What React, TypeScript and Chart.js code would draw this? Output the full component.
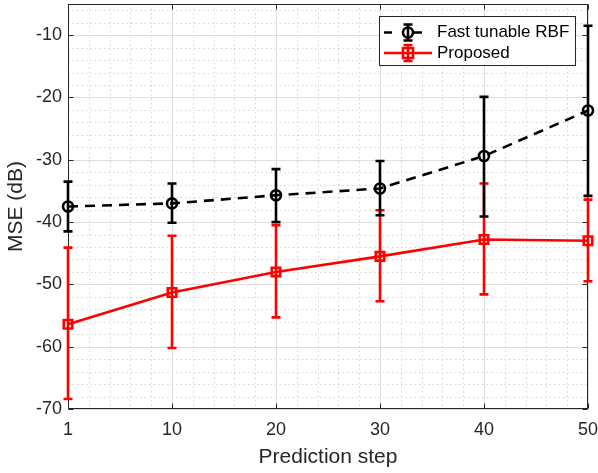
import React, { useEffect, useRef } from 'react';
import { Chart, registerables } from 'chart.js';
Chart.register(...registerables);

const steps = ['1', '10', '20', '30', '40', '50'];
const yTicks = [-70, -60, -50, -40, -30, -20, -10];

const rbfMean = [-37.5, -37.0, -35.7, -34.6, -29.4, -22.1];
const rbfHigh = [-33.5, -33.8, -31.5, -30.2, -19.9, -8.5];
const rbfLow = [-41.5, -40.1, -40.0, -38.9, -39.1, -35.8];

const propMean = [-56.4, -51.3, -48.0, -45.5, -42.8, -43.0];
const propHigh = [-44.1, -42.2, -40.5, -38.1, -33.8, -36.4];
const propLow = [-68.4, -60.2, -55.3, -52.7, -51.6, -49.5];

const FONT = '"Liberation Sans", Arial, Helvetica, sans-serif';
const AXIS = '#262626';

const gridPlugin = {
  id: 'matlabGrid',
  beforeDatasetsDraw(chart: any) {
    const { ctx, chartArea: a, scales } = chart;
    const xs = scales.x, ys = scales.y;
    ctx.save();
    ctx.strokeStyle = '#d3d3d3';
    ctx.lineWidth = 1;
    ctx.setLineDash([1.5, 3]);
    for (let v = -70; v <= -5; v += 2) {
      if (v % 10 === 0) continue;
      const y = Math.round(ys.getPixelForValue(v)) + 0.5;
      ctx.beginPath(); ctx.moveTo(a.left, y); ctx.lineTo(a.right, y); ctx.stroke();
    }
    for (let i = 0; i < steps.length - 1; i++) {
      for (let k = 1; k < 5; k++) {
        const x = Math.round(xs.getPixelForValue(i + k / 5)) + 0.5;
        ctx.beginPath(); ctx.moveTo(x, a.top); ctx.lineTo(x, a.bottom); ctx.stroke();
      }
    }
    ctx.setLineDash([]);
    ctx.strokeStyle = '#dedede';
    yTicks.forEach(v => {
      const y = Math.round(ys.getPixelForValue(v)) + 0.5;
      ctx.beginPath(); ctx.moveTo(a.left, y); ctx.lineTo(a.right, y); ctx.stroke();
    });
    steps.forEach((_, i) => {
      const x = Math.round(xs.getPixelForValue(i)) + 0.5;
      ctx.beginPath(); ctx.moveTo(x, a.top); ctx.lineTo(x, a.bottom); ctx.stroke();
    });
    ctx.strokeStyle = AXIS;
    const L = Math.round(a.left) + 0.5, R = Math.round(a.right) - 0.5;
    const T = Math.round(a.top) + 0.5, B = Math.round(a.bottom) - 0.5;
    ctx.strokeRect(L, T, R - L, B - T);
    const tl = 5;
    ctx.beginPath();
    yTicks.forEach(v => {
      const y = Math.round(ys.getPixelForValue(v)) + 0.5;
      ctx.moveTo(L, y); ctx.lineTo(L + tl, y);
      ctx.moveTo(R, y); ctx.lineTo(R - tl, y);
    });
    steps.forEach((_, i) => {
      const x = Math.round(xs.getPixelForValue(i)) + 0.5;
      ctx.moveTo(x, B); ctx.lineTo(x, B - tl);
      ctx.moveTo(x, T); ctx.lineTo(x, T + tl);
    });
    ctx.stroke();
    ctx.restore();
  },
};

const errorBarPlugin = {
  id: 'errorBars',
  beforeDatasetDraw(chart: any, args: any) {
    const ds: any = chart.data.datasets[args.index];
    const ys = chart.scales.y;
    const ctx = chart.ctx;
    ctx.save();
    ctx.strokeStyle = ds.borderColor;
    ctx.lineWidth = 2.6;
    ctx.setLineDash([]);
    ctx.lineCap = 'butt';
    args.meta.data.forEach((pt: any, i: number) => {
      const x = pt.x;
      const yh = ys.getPixelForValue(ds.errHigh[i]);
      const yl = ys.getPixelForValue(ds.errLow[i]);
      ctx.beginPath();
      ctx.moveTo(x, yh); ctx.lineTo(x, yl);
      ctx.moveTo(x - 4.5, yh); ctx.lineTo(x + 4.5, yh);
      ctx.moveTo(x - 4.5, yl); ctx.lineTo(x + 4.5, yl);
      ctx.stroke();
    });
    ctx.restore();
  },
};

const legendPlugin = {
  id: 'insideLegend',
  afterDraw(chart: any) {
    const ctx = chart.ctx;
    const bx = 379.5, by = 16.5, bw = 196, bh = 49;
    ctx.save();
    ctx.fillStyle = '#ffffff';
    ctx.fillRect(bx, by, bw, bh);
    ctx.strokeStyle = AXIS;
    ctx.lineWidth = 1;
    ctx.strokeRect(bx, by, bw, bh);
    const items = [
      { label: 'Fast tunable RBF', color: '#000000', dash: [8, 22], marker: 'circle', y: 32.5 },
      { label: 'Proposed', color: '#ff0000', dash: [], marker: 'rect', y: 53 },
    ];
    items.forEach(it => {
      const x0 = 384, x1 = 432, xm = 408;
      ctx.strokeStyle = it.color;
      ctx.lineWidth = 2.6;
      ctx.setLineDash(it.dash);
      ctx.beginPath(); ctx.moveTo(x0, it.y); ctx.lineTo(x1, it.y); ctx.stroke();
      ctx.setLineDash([]);
      ctx.beginPath();
      ctx.moveTo(xm, it.y - 8); ctx.lineTo(xm, it.y + 8);
      ctx.moveTo(xm - 4.5, it.y - 8); ctx.lineTo(xm + 4.5, it.y - 8);
      ctx.moveTo(xm - 4.5, it.y + 8); ctx.lineTo(xm + 4.5, it.y + 8);
      ctx.stroke();
      ctx.beginPath();
      if (it.marker === 'circle') ctx.arc(xm, it.y, 5, 0, Math.PI * 2);
      else ctx.rect(xm - 5, it.y - 5, 10, 10);
      ctx.stroke();
      ctx.fillStyle = '#000000';
      ctx.font = `17px ${FONT}`;
      ctx.textBaseline = 'middle';
      ctx.textAlign = 'left';
      ctx.fillText(it.label, 437, it.y);
    });
    ctx.restore();
  },
};

export default function App() {
  const ref = useRef<HTMLCanvasElement>(null);
  useEffect(() => {
    document.body.style.margin = '0';
    const canvas = ref.current!;
    const chart = new Chart(canvas, {
      type: 'line',
      data: {
        labels: steps,
        datasets: [
          {
            label: 'Fast tunable RBF',
            data: rbfMean,
            errHigh: rbfHigh,
            errLow: rbfLow,
            borderColor: '#000000',
            backgroundColor: 'rgba(0,0,0,0)',
            borderWidth: 2.6,
            borderDash: [10, 7],
            pointStyle: 'circle',
            pointRadius: 5,
            pointBorderWidth: 2.6,
            pointBackgroundColor: 'rgba(0,0,0,0)',
            pointBorderColor: '#000000',
            tension: 0,
            clip: false,
          } as any,
          {
            label: 'Proposed',
            data: propMean,
            errHigh: propHigh,
            errLow: propLow,
            borderColor: '#ff0000',
            backgroundColor: 'rgba(0,0,0,0)',
            borderWidth: 2.6,
            pointStyle: 'rect',
            pointRadius: 6,
            pointBorderWidth: 2.6,
            pointBackgroundColor: 'rgba(0,0,0,0)',
            pointBorderColor: '#ff0000',
            tension: 0,
            clip: false,
          } as any,
        ],
      },
      options: {
        responsive: false,
        animation: false,
        layout: { autoPadding: false, padding: { top: 4, right: 10, left: 0, bottom: 0 } },
        plugins: { legend: { display: false }, tooltip: { enabled: false } },
        scales: {
          x: {
            type: 'category',
            offset: false,
            grid: { display: false, drawTicks: false },
            border: { display: false },
            ticks: { color: AXIS, font: { family: FONT, size: 18 }, padding: 10, maxRotation: 0 },
            title: {
              display: true,
              text: 'Prediction step',
              color: AXIS,
              font: { family: FONT, size: 21 },
              padding: { top: 0, bottom: 3 },
            },
            afterFit: (s: any) => {
              s.height = 64;
              s.paddingLeft = 0; s.paddingRight = 0; s.paddingTop = 0; s.paddingBottom = 0;
            },
          },
          y: {
            type: 'linear',
            min: -70,
            max: -5,
            grid: { display: false, drawTicks: false },
            border: { display: false },
            afterBuildTicks: (s: any) => { s.ticks = yTicks.map(v => ({ value: v })); },
            ticks: { color: AXIS, font: { family: FONT, size: 18 }, padding: 6 },
            title: {
              display: true,
              text: 'MSE (dB)',
              color: AXIS,
              font: { family: FONT, size: 21 },
              padding: { top: 4, bottom: 0 },
            },
            afterFit: (s: any) => {
              s.width = 68;
              s.paddingLeft = 0; s.paddingRight = 0; s.paddingTop = 0; s.paddingBottom = 0;
            },
          },
        },
      },
      plugins: [gridPlugin, errorBarPlugin, legendPlugin],
    });
    return () => chart.destroy();
  }, []);
  return (
    <div style={{ width: 598, height: 473 }}>
      <canvas ref={ref} width={598} height={473} />
    </div>
  );
}
